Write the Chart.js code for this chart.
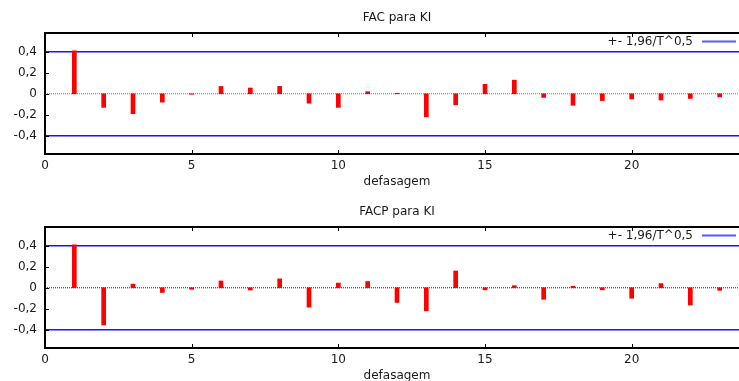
<!DOCTYPE html>
<html>
<head>
<meta charset="utf-8">
<script src="https://cdn.jsdelivr.net/npm/chart.js@4.4.1/dist/chart.umd.min.js"></script>
<style>
    html, body { margin: 0; padding: 0; background: #fff; overflow: hidden; width: 739px; height: 381px; }
    .panel { position: absolute; left: 0; }
</style>
</head>
<body>
<div class="panel" style="top:0px"><canvas id="facChart" width="750" height="190"></canvas></div>
<div class="panel" style="top:194px"><canvas id="facpChart" width="750" height="190"></canvas></div>
<script>
const lags = [1, 2, 3, 4, 5, 6, 7, 8, 9, 10, 11, 12, 13, 14, 15, 16, 17, 18, 19, 20, 21, 22, 23];
const facValues = [0.41, -0.13, -0.19, -0.08, -0.005, 0.07, 0.055, 0.07, -0.09, -0.13, 0.02, 0.005,
    -0.22, -0.105, 0.09, 0.13, -0.035, -0.11, -0.065, -0.05, -0.06, -0.045, -0.03];
const facpValues = [0.41, -0.355, 0.035, -0.045, -0.015, 0.065, -0.022, 0.085, -0.185, 0.045, 0.06, -0.14,
    -0.22, 0.16, -0.02, 0.02, -0.11, 0.015, -0.02, -0.1, 0.04, -0.165, -0.025];
const band = 0.4;   // +- 1,96/T^0,5
const bandLabel = '+- 1,96/T^0,5';
const xTicks = [0, 5, 10, 15, 20];
const yTicks = [-0.4, -0.2, 0, 0.2, 0.4];
const xRange = [0, 24];
const yRange = [-0.575, 0.58];

const FONT = '"DejaVu Sans", Verdana, sans-serif';
const TEXT = '#1a1a1a';
const BAR_RED = '#ff0000';
const BAND_BLUE = '#1414ff';

Chart.defaults.font.family = FONT;
Chart.defaults.font.size = 12;
Chart.defaults.color = TEXT;

// box around the plot, inward ticks and the key
const framePlugin = {
    id: 'frame',
    afterDatasetsDraw(chart) {
        const { ctx, chartArea: a } = chart;
        const x = chart.scales.x;
        const y = chart.scales.y;
        ctx.save();
        ctx.strokeStyle = '#000';
        ctx.lineWidth = 2;
        ctx.strokeRect(a.left, a.top, a.right - a.left, a.bottom - a.top);

        ctx.lineWidth = 1;
        ctx.beginPath();
        xTicks.forEach(v => {
            const px = Math.round(x.getPixelForValue(v)) + 0.5;
            ctx.moveTo(px, a.top); ctx.lineTo(px, a.top + 4);
            ctx.moveTo(px, a.bottom); ctx.lineTo(px, a.bottom - 4);
        });
        yTicks.forEach(v => {
            const py = Math.round(y.getPixelForValue(v)) + 0.5;
            ctx.moveTo(a.left, py); ctx.lineTo(a.left + 4, py);
        });
        ctx.stroke();

        // key at top right
        const ky = a.top + 8.5;
        ctx.font = '12px ' + FONT;
        ctx.fillStyle = TEXT;
        ctx.textAlign = 'right';
        ctx.textBaseline = 'middle';
        ctx.fillText(bandLabel, a.right - 56, ky);
        ctx.strokeStyle = '#5a5aff';
        ctx.lineWidth = 2;
        ctx.beginPath();
        ctx.moveTo(a.right - 47, ky);
        ctx.lineTo(a.right - 13, ky);
        ctx.stroke();
        ctx.restore();
    }
};

function makeChart(canvasId, title, values, zeroColor) {
    const ctx = document.getElementById(canvasId).getContext('2d');
    return new Chart(ctx, {
        type: 'bar',
        data: {
            datasets: [{
                type: 'bar',
                data: lags.map((l, i) => ({ x: l, y: values[i] })),
                backgroundColor: BAR_RED,
                barThickness: 4,
                order: 0
            }, {
                type: 'line',
                data: [{ x: xRange[0], y: band }, { x: xRange[1], y: band }],
                borderColor: BAND_BLUE,
                borderWidth: 1.5,
                pointRadius: 0,
                order: 2
            }, {
                type: 'line',
                data: [{ x: xRange[0], y: -band }, { x: xRange[1], y: -band }],
                borderColor: BAND_BLUE,
                borderWidth: 1.5,
                pointRadius: 0,
                order: 2
            }, {
                type: 'line',
                data: [{ x: xRange[0], y: 0 }, { x: xRange[1], y: 0 }],
                borderColor: zeroColor,
                borderWidth: 1,
                borderDash: [1, 1],
                pointRadius: 0,
                order: 1
            }]
        },
        options: {
            responsive: false,
            animation: false,
            devicePixelRatio: 1,
            layout: { padding: { left: 0, right: 1, top: 0, bottom: 0 } },
            plugins: {
                legend: { display: false },
                tooltip: { enabled: false },
                title: {
                    display: true,
                    fullSize: false,
                    text: title,
                    color: TEXT,
                    font: { size: 12, weight: 'normal' },
                    padding: { top: 10.5, bottom: 8.1 }
                }
            },
            scales: {
                x: {
                    type: 'linear',
                    min: xRange[0],
                    max: xRange[1],
                    offset: false,
                    grid: { display: false, drawTicks: false },
                    border: { display: false },
                    afterBuildTicks: s => { s.ticks = xTicks.map(v => ({ value: v })); },
                    afterFit: s => { s.height = 36; },
                    ticks: { padding: 5, maxRotation: 0, color: TEXT },
                    title: {
                        display: true,
                        text: 'defasagem',
                        color: TEXT,
                        padding: { top: 0, bottom: 1 }
                    }
                },
                y: {
                    min: yRange[0],
                    max: yRange[1],
                    grid: { display: false, drawTicks: false },
                    border: { display: false },
                    afterBuildTicks: s => { s.ticks = yTicks.map(v => ({ value: v })); },
                    afterFit: s => { s.width = 45; },
                    ticks: {
                        padding: 8,
                        color: TEXT,
                        callback: v => String(Math.round(v * 10) / 10).replace('.', ',')
                    }
                }
            }
        },
        plugins: [framePlugin]
    });
}

makeChart('facChart', 'FAC para KI', facValues, '#777');
makeChart('facpChart', 'FACP para KI', facpValues, '#222');
</script>
</body>
</html>
